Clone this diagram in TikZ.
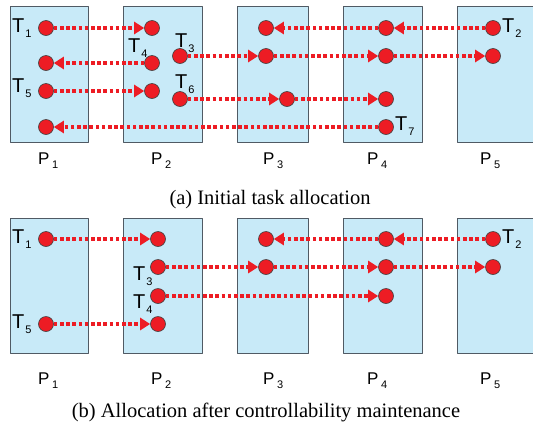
\documentclass[tikz,border=0pt]{standalone}
\usepackage{fontspec}
\setmainfont{Liberation Serif}
\newfontfamily\arialfont{Liberation Sans}
\usetikzlibrary{arrows.meta}
\definecolor{taskred}{RGB}{237,28,36}
\definecolor{procblue}{RGB}{200,234,248}
\definecolor{procgray}{RGB}{80,90,100}
\newcommand{\tsub}[1]{T\kern1pt\raisebox{-5pt}{\fontsize{11}{11}\selectfont #1}}
\newcommand{\psub}[1]{P\kern2.5pt\raisebox{-4pt}{\fontsize{11}{11}\selectfont #1}}

\begin{document}
\begin{tikzpicture}[line join=round,>={Triangle[length=10pt,width=12pt]},x=1pt,y=-1pt,
	proc/.style={draw=procgray,fill=procblue,line width=0.8pt},
	task/.style={circle,fill=taskred,draw=black!75,line width=0.6pt,minimum size=15pt,inner sep=0pt},
	move/.style={->,taskred,line width=3.8pt,dash pattern=on 3.6pt off 2.6pt},
	tname/.style={font=\arialfont\fontsize{20}{20}\selectfont,inner sep=0pt,anchor=base west},
	pname/.style={font=\arialfont\fontsize{17}{17}\selectfont,inner sep=0pt,anchor=base west},
	capt/.style={font=\fontsize{20.5}{20.5}\selectfont,inner sep=0pt,anchor=base}]
		\clip (0,0) rectangle (533,421);
		\foreach \l/\r in {10/88,123/202,237/308,343/422,457/536}
		{
		\draw[proc] (\l,6) rectangle (\r,142);
		\draw[proc] (\l,218) rectangle (\r,353);
		}
		\foreach \x/\k in {38/1,151/2,263/3,367/4,480/5}
		{
		\node[pname] (pa\k) at (\x,164) {\psub{\k}};
		\node[pname] (pb\k) at (\x,384) {\psub{\k}};
		}
		\node[capt] (capa) at (270,204) {(a) Initial task allocation};
		\node[capt] (capb) at (266,417) {(b) Allocation after controllability maintenance};
		% initial allocation
		\node[task] (a1) at (46,28) {};
		\node[task] (a2) at (152,28) {};
		\node[task] (a3) at (266,28) {};
		\node[task] (a4) at (386,28) {};
		\node[task] (a5) at (493,28) {};
		\node[task] (b1) at (46,63) {};
		\node[task] (b2) at (152,63) {};
		\node[task] (c2) at (180,56) {};
		\node[task] (c3) at (266,56) {};
		\node[task] (c4) at (386,56) {};
		\node[task] (c5) at (493,56) {};
		\node[task] (d1) at (46,91) {};
		\node[task] (d2) at (152,91) {};
		\node[task] (e2) at (180,99) {};
		\node[task] (e3) at (287,99) {};
		\node[task] (e4) at (386,99) {};
		\node[task] (f1) at (46,127) {};
		\node[task] (f4) at (386,127) {};
		\draw[move] (a1) -- (a2);
		\draw[move] (a5) -- (a4);
		\draw[move] (a4) -- (a3);
		\draw[move] (b2) -- (b1);
		\draw[move] (c2) -- (c3);
		\draw[move] (c3) -- (c4);
		\draw[move] (c4) -- (c5);
		\draw[move] (d1) -- (d2);
		\draw[move] (e2) -- (e3);
		\draw[move] (e3) -- (e4);
		\draw[move] (f4) -- (f1);
		\node[tname] (ta1) at (12,32) {\tsub{1}};
		\node[tname] (ta2) at (502,32) {\tsub{2}};
		\node[tname] (ta3) at (175,47) {\tsub{3}};
		\node[tname] (ta4) at (128,52) {\tsub{4}};
		\node[tname] (ta5) at (12,92) {\tsub{5}};
		\node[tname] (ta6) at (175,88) {\tsub{6}};
		\node[tname] (ta7) at (395,130) {\tsub{7}};
		% after maintenance
		\node[task] (g1) at (46,239) {};
		\node[task] (g2) at (158,239) {};
		\node[task] (g3) at (266,239) {};
		\node[task] (g4) at (386,239) {};
		\node[task] (g5) at (493,239) {};
		\node[task] (h2) at (158,267) {};
		\node[task] (h3) at (266,267) {};
		\node[task] (h4) at (386,267) {};
		\node[task] (h5) at (493,267) {};
		\node[task] (i2) at (158,296) {};
		\node[task] (i4) at (386,296) {};
		\node[task] (j1) at (46,324) {};
		\node[task] (j2) at (158,324) {};
		\draw[move] (g1) -- (g2);
		\draw[move] (g5) -- (g4);
		\draw[move] (g4) -- (g3);
		\draw[move] (h2) -- (h3);
		\draw[move] (h3) -- (h4);
		\draw[move] (h4) -- (h5);
		\draw[move] (i2) -- (i4);
		\draw[move] (j1) -- (j2);
		\node[tname] (tb1) at (12,243) {\tsub{1}};
		\node[tname] (tb2) at (502,243) {\tsub{2}};
		\node[tname] (tb3) at (133,280) {\tsub{3}};
		\node[tname] (tb4) at (133,308) {\tsub{4}};
		\node[tname] (tb5) at (12,328) {\tsub{5}};
\end{tikzpicture}
\end{document}
